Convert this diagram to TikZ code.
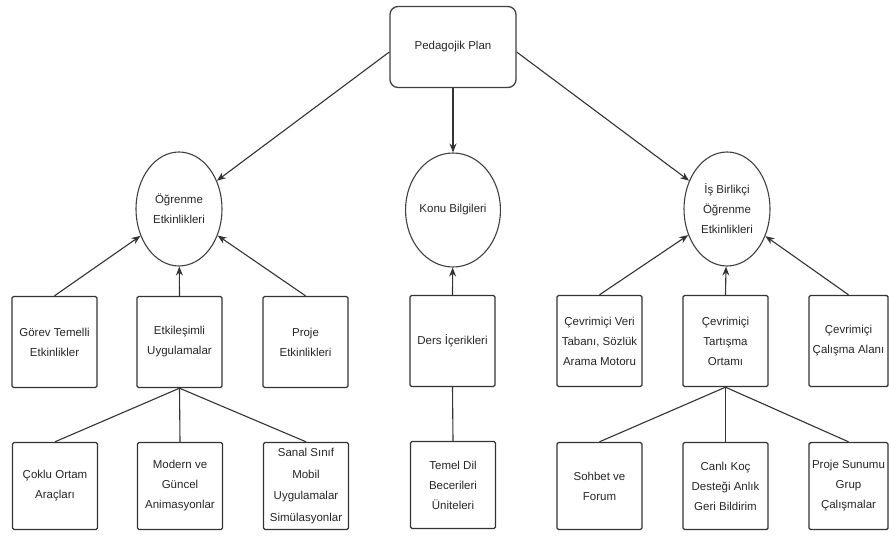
\documentclass[tikz,border=0pt]{standalone}
\usepackage{fontspec}
\setmainfont{Liberation Sans}
\usetikzlibrary{arrows.meta,shapes.geometric}

\begin{document}
\begin{tikzpicture}[x=1pt,y=-1pt,
  txt/.style={font=\fontsize{11.5}{20}\selectfont, align=center, text=black!85},
  planbox/.style={txt, draw=black!75, line width=1.3pt, rounded corners=8pt,
    minimum width=126pt, minimum height=81pt},
  oval/.style={txt, ellipse, draw=black!75, line width=1.1pt, inner sep=0pt,
    minimum width=86pt, minimum height=114pt},
  card/.style={txt, rectangle, draw=black!80, line width=1.4pt, rounded corners=1.5pt,
    inner sep=1pt, minimum width=85pt, minimum height=91pt},
  lowcard/.style={card, minimum height=87pt},
  link/.style={draw=black!80, line width=1.1pt},
  arr/.style={link, -{Stealth[length=9pt,width=7pt]}}
]
\useasboundingbox (0,0) rectangle (889,537);

% root
\node[planbox] (plan) at (453,47) {Pedagojik Plan};

% second level
\node[oval] (ogr)  at (179,209) {Öğrenme\\Etkinlikleri};
\node[oval] (konu) at (453,210) {Konu Bilgileri};
\node[oval] (isb)  at (727,209) {İş Birlikçi\\Öğrenme\\Etkinlikleri};

% third level
\node[card] (gorev) at (54.5,342) {Görev Temelli\\Etkinlikler};
\node[card] (etk)   at (179.5,342) {Etkileşimli\\Uygulamalar};
\node[card] (proje) at (305.5,342) {Proje\\Etkinlikleri};
\node[card] (ders)  at (452.5,341) {Ders İçerikleri};
\node[card] (veri)  at (599.5,341) {Çevrimiçi Veri\\Tabanı, Sözlük\\Arama Motoru};
\node[card] (tart)  at (725.5,341) {Çevrimiçi\\Tartışma\\Ortamı};
\node[card, minimum width=79pt] (cal) at (848.5,341) {Çevrimiçi\\Çalışma Alanı};

% fourth level
\node[lowcard] (coklu)  at (55,486) {Çoklu Ortam\\Araçları};
\node[lowcard] (modern) at (180,486) {Modern ve\\Güncel\\Animasyonlar};
\node[lowcard, font=\fontsize{11.5}{21.5}\selectfont] (sanal) at (306,486) {Sanal Sınıf\\Mobil\\Uygulamalar\\Simülasyonlar};
\node[lowcard] (temel)  at (453,485) {Temel Dil\\Becerileri\\Üniteleri};
\node[lowcard] (sohbet) at (599.5,486) {Sohbet ve\\Forum};
\node[lowcard] (canli)  at (725.5,486) {Canlı Koç\\Desteği Anlık\\Geri Bildirim};
\node[lowcard, minimum width=79pt] (psun) at (848.5,486) {Proje Sunumu\\Grup\\Çalışmalar};

% root to second level
\draw[arr] ([yshift=-5pt]plan.west) -- (ogr);
\draw[arr] (plan.south) -- (konu);
\draw[arr] ([yshift=-5pt]plan.east) -- (isb);

% third level to second level
\draw[arr] (gorev.north) -- (ogr);
\draw[arr] (etk.north) -- (ogr);
\draw[arr] (proje.north) -- (ogr);
\draw[arr] (ders.north) -- (konu);
\draw[arr] (veri.north) -- (isb);
\draw[arr] (tart.north) -- (isb);
\draw[arr] (cal.north) -- (isb);

% fourth level to third level
\draw[link] (coklu.north) -- (etk.south);
\draw[link] (modern.north) -- (etk.south);
\draw[link] (sanal.north) -- (etk.south);
\draw[link] (temel.north) -- (ders.south);
\draw[link] (sohbet.north) -- (tart.south);
\draw[link] (canli.north) -- (tart.south);
\draw[link] (psun.north) -- (tart.south);
\end{tikzpicture}
\end{document}
